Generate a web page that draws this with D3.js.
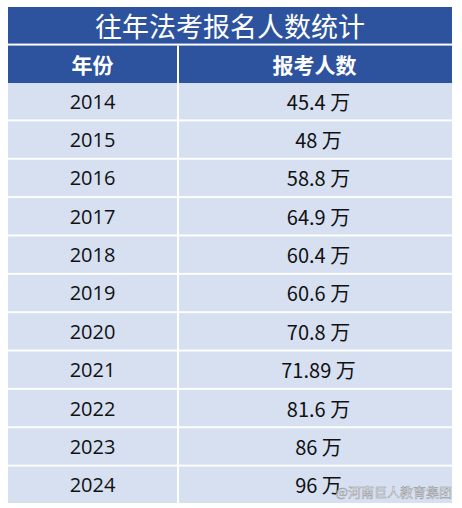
<!DOCTYPE html>
<html><head><meta charset="utf-8">
<script src="https://cdn.jsdelivr.net/npm/d3@7"></script>
<style>body{margin:0;background:#fff}</style>
</head><body><svg width="462" height="508"></svg>
<script>
const title = '往年法考报名人数统计';
const headers = ['年份', '报考人数'];
const years = ['2014','2015','2016','2017','2018','2019','2020','2021','2022','2023','2024'];
const counts = ['45.4','48','58.8','64.9','60.4','60.6','70.8','71.89','81.6','86','96'];

const svg = d3.select('svg');
const left = 8, right = 452, split = 177;
const font = '"Noto Sans CJK SC", "Open Sans", sans-serif';

// title + header band
const yTop = d3.scaleBand().domain(['title','head']).range([7, 83]).paddingInner(0.03);
svg.append('rect').attr('x', left).attr('y', 7).attr('width', right - left).attr('height', 76).attr('fill', '#2D539E');
svg.append('rect').attr('x', left).attr('y', yTop('head') - 2).attr('width', right - left).attr('height', 2).attr('fill', '#fff');
svg.append('rect').attr('x', split).attr('y', yTop('head')).attr('width', 2).attr('height', yTop.bandwidth()).attr('fill', '#fff');
svg.append('text').attr('x', (left + right) / 2).attr('y', yTop('title') + yTop.bandwidth() / 2)
  .attr('text-anchor', 'middle').attr('dominant-baseline', 'central')
  .attr('fill', '#fff').attr('font-size', 27).attr('font-family', font).text(title);
svg.selectAll('.hd').data(headers).enter().append('text')
  .attr('x', (d, i) => i === 0 ? (left + split) / 2 : (split + right) / 2)
  .attr('y', yTop('head') + yTop.bandwidth() / 2)
  .attr('text-anchor', 'middle').attr('dominant-baseline', 'central')
  .attr('fill', '#fff').attr('font-size', 21).attr('font-weight', 'bold').attr('font-family', font).text(d => d);

// data rows
const y = d3.scaleBand().domain(years).range([83, 503]).paddingInner(0.05);
const rows = svg.selectAll('.row').data(years).enter().append('g')
  .attr('transform', d => `translate(0,${y(d)})`);
rows.append('rect').attr('x', left).attr('width', split - left).attr('height', y.bandwidth()).attr('fill', '#D6E0F1');
rows.append('rect').attr('x', split + 2).attr('width', right - split - 2).attr('height', y.bandwidth()).attr('fill', '#D6E0F1');
rows.append('text').attr('x', (left + split) / 2).attr('y', y.bandwidth() / 2)
  .attr('text-anchor', 'middle').attr('dominant-baseline', 'central')
  .attr('fill', '#111').attr('font-size', 20).attr('font-family', '"Open Sans", sans-serif').text(d => d);
rows.append('text').attr('x', (split + right) / 2 + 4).attr('y', y.bandwidth() / 2)
  .attr('text-anchor', 'middle').attr('dominant-baseline', 'central')
  .attr('fill', '#111').attr('font-size', 20).attr('font-family', font)
  .text((d, i) => counts[i] + ' 万');

// watermark
svg.append('text').attr('x', 452).attr('y', 497).attr('text-anchor', 'end')
  .attr('fill', '#fff').attr('fill-opacity', 0.75).attr('stroke', '#999').attr('stroke-width', 0.5)
  .attr('font-size', 13).attr('font-family', font).text('@河南巨人教育集团');
</script></body></html>
